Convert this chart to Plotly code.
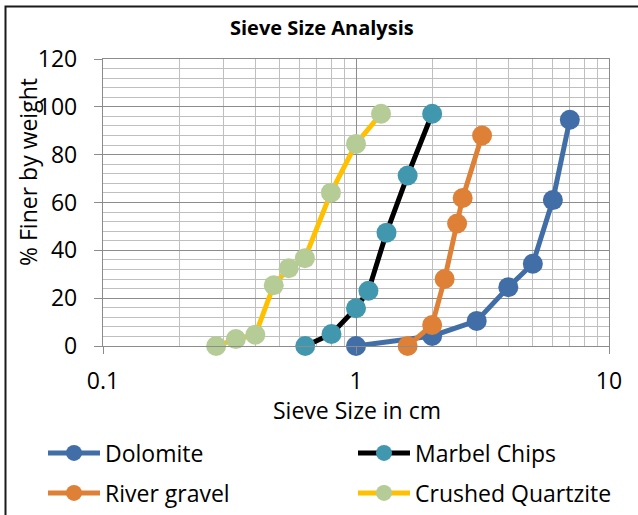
import plotly.graph_objects as go

# Sieve analysis: sieve opening (cm) vs cumulative % finer by weight
dolomite_size = [1.0, 2.0, 3.0, 4.0, 5.0, 6.0, 7.0]
dolomite_finer = [0, 4.2, 10.5, 24.6, 34.4, 61, 94.6]

marble_size = [0.63, 0.80, 1.0, 1.12, 1.32, 1.60, 2.0]
marble_finer = [0, 5, 15.8, 23.1, 47.4, 71.3, 97.1]

gravel_size = [1.60, 2.0, 2.24, 2.51, 2.64, 3.15]
gravel_finer = [0, 8.8, 28, 51.2, 61.9, 88]

quartzite_size = [0.28, 0.335, 0.40, 0.473, 0.542, 0.628, 0.796, 1.0, 1.256]
quartzite_finer = [0, 2.9, 4.7, 25.4, 32.5, 36.7, 64.1, 84.5, 97.1]

FONT = "Open Sans"

W, H = 638, 515
L, R, T, B = 103, 29, 59, 169
pw, ph = W - L - R, H - T - B


def px_x(p):
    return (p - L) / pw


def px_y(p):
    return (H - B - p) / ph


# name, x, y, line colour, marker colour, legend id, legend position (px)
series = [
    ("Dolomite", dolomite_size, dolomite_finer, "#416EA6", "#416EA6", "legend", (43, 453)),
    ("Marbel Chips", marble_size, marble_finer, "#000000", "#4198AE", "legend2", (353, 453)),
    ("River gravel", gravel_size, gravel_finer, "#DE8137", "#DE8137", "legend3", (43, 493)),
    ("Crushed Quartzite", quartzite_size, quartzite_finer, "#FFC000", "#B5CC96", "legend4", (353, 493)),
]

fig = go.Figure()
legends = {}
for name, xs, ys, line_c, mark_c, leg, (lx, ly) in series:
    fig.add_trace(go.Scatter(
        x=xs, y=ys, name=name, mode="lines+markers",
        line=dict(color=line_c, width=5),
        marker=dict(color=mark_c, size=20),
        cliponaxis=False, legend=leg,
    ))
    legends[leg] = dict(
        x=px_x(lx), y=px_y(ly), xanchor="left", yanchor="middle",
        orientation="h", itemwidth=52,
        font=dict(family=FONT, size=23, color="#000000"),
        bgcolor="rgba(0,0,0,0)",
    )

fig.update_layout(
    width=W, height=H,
    margin=dict(l=L, r=R, t=T, b=B, autoexpand=False),
    paper_bgcolor="white", plot_bgcolor="white",
    font=dict(family=FONT, color="#000000"),
    showlegend=True,
    **legends,
    xaxis=dict(
        type="log", range=[-1, 1],
        tickvals=[0.1, 1, 10], ticktext=["0.1", "1", "10"],
        showgrid=True, gridcolor="#8C8C8C", gridwidth=1.3,
        minor=dict(dtick="D1", showgrid=True, gridcolor="#BFBFBF", gridwidth=1.3, ticks=""),
        showline=True, linecolor="#8C8C8C", linewidth=1.3, mirror=True,
        ticks="outside", ticklen=7, tickcolor="#8C8C8C",
        ticklabelstandoff=7,
        tickfont=dict(family=FONT, size=23), zeroline=False,
    ),
    yaxis=dict(
        range=[0, 120], dtick=20,
        showgrid=True, gridcolor="#8C8C8C", gridwidth=1.3,
        minor=dict(dtick=4, showgrid=True, gridcolor="#BFBFBF", gridwidth=1.3),
        showline=True, linecolor="#8C8C8C", linewidth=1.3, mirror=True,
        ticks="outside", ticklen=8, tickcolor="#8C8C8C",
        ticklabelstandoff=12,
        tickfont=dict(family=FONT, size=23), zeroline=False,
    ),
    annotations=[
        dict(text="<b>Sieve Size Analysis</b>", xref="paper", yref="paper",
             x=px_x(322), y=px_y(27), xanchor="center", yanchor="middle",
             showarrow=False, font=dict(family=FONT, size=20)),
        dict(text="Sieve Size in cm", xref="paper", yref="paper",
             x=px_x(357), y=px_y(410), xanchor="center", yanchor="middle",
             showarrow=False, font=dict(family=FONT, size=23)),
        dict(text="% Finer by weight", xref="paper", yref="paper",
             x=px_x(28), y=px_y(172), xanchor="center", yanchor="middle",
             showarrow=False, textangle=-90, font=dict(family=FONT, size=23)),
    ],
    shapes=[
        dict(type="rect", xref="paper", yref="paper",
             x0=px_x(5.5), x1=px_x(660), y0=px_y(540), y1=px_y(6.5),
             line=dict(color="#1A1A1A", width=2), fillcolor="rgba(0,0,0,0)",
             layer="below"),
    ],
)

fig.write_html("out.html")
